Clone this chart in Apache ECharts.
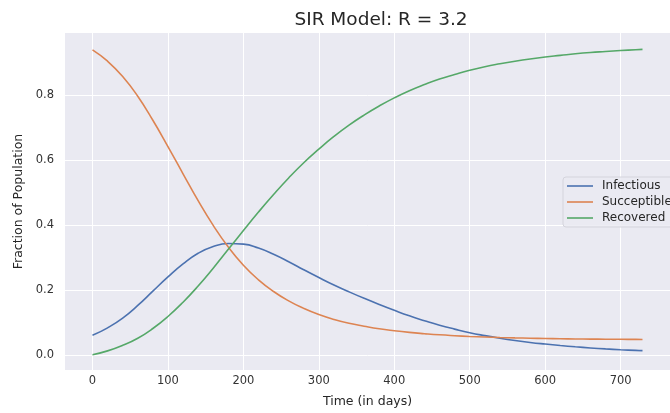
<!DOCTYPE html>
<html>
<head>
<meta charset="utf-8">
<script src="https://cdn.jsdelivr.net/npm/echarts@6/dist/echarts.min.js"></script>
<style>
  html, body { margin: 0; padding: 0; background: #ffffff; }
  #main { width: 670px; height: 413px; }
</style>
</head>
<body>
<div id="main"></div>
<script>
var days = [0, 20, 40, 60, 80, 100, 120, 140, 160, 180, 200, 220, 240, 260, 280, 300, 320, 340, 360,
  380, 400, 420, 440, 460, 480, 500, 520, 540, 560, 580, 600, 620, 640, 660, 680, 700, 720, 729];

var infectious = [0.060, 0.083, 0.113, 0.152, 0.196, 0.240, 0.280, 0.313, 0.334, 0.343, 0.341, 0.329,
  0.310, 0.287, 0.262, 0.238, 0.215, 0.194, 0.174, 0.155, 0.137, 0.120, 0.105, 0.091, 0.079, 0.068,
  0.059, 0.051, 0.044, 0.038, 0.033, 0.0285, 0.0245, 0.021, 0.018, 0.0155, 0.0135, 0.0128];

var susceptible = [0.940, 0.905, 0.858, 0.797, 0.723, 0.642, 0.558, 0.475, 0.399, 0.332, 0.276, 0.231,
  0.195, 0.166, 0.143, 0.124, 0.109, 0.097, 0.088, 0.080, 0.074, 0.069, 0.065, 0.0615, 0.0588, 0.0565,
  0.0547, 0.0532, 0.0520, 0.0510, 0.0501, 0.0494, 0.0488, 0.0483, 0.0479, 0.0476, 0.0473, 0.0472];

var recovered = [0.000, 0.012, 0.029, 0.051, 0.081, 0.118, 0.162, 0.212, 0.267, 0.325, 0.383, 0.440,
  0.494, 0.545, 0.592, 0.634, 0.673, 0.708, 0.739, 0.767, 0.792, 0.814, 0.833, 0.850, 0.864, 0.877,
  0.888, 0.897, 0.905, 0.912, 0.918, 0.923, 0.928, 0.932, 0.935, 0.938, 0.9405, 0.9415];

var names = ['Infectious', 'Succeptible', 'Recovered'];
var colors = ['#4c72b0', '#dd8452', '#55a868'];

function pairs(vals) {
  return days.map(function (d, i) { return [d, vals[i]]; });
}

var font = 'DejaVu Sans';
var chart = echarts.init(document.getElementById('main'), null, { renderer: 'canvas' });

var option = {
  backgroundColor: '#ffffff',
  animation: false,
  color: colors,
  textStyle: { fontFamily: font },
  title: {
    text: 'SIR Model: R = 3.2',
    left: 376,
    top: 6,
    textAlign: 'center',
    textStyle: { fontFamily: font, fontSize: 18.5, fontWeight: 'normal', color: '#262626' }
  },
  grid: {
    left: 65,
    top: 33,
    bottom: 41,
    right: -18,
    show: true,
    backgroundColor: '#eaeaf2',
    borderWidth: 0
  },
  legend: {
    orient: 'vertical',
    left: 563,
    top: 177,
    icon: 'rect',
    itemWidth: 26,
    itemHeight: 1.6,
    itemGap: 4,
    padding: [3, 8, 3, 4],
    backgroundColor: 'rgba(234,234,242,0.85)',
    borderColor: '#d4d4dc',
    borderWidth: 1,
    borderRadius: 3,
    data: names,
    textStyle: { fontFamily: font, fontSize: 12, color: '#262626', padding: [0, 0, 0, 4] }
  },
  xAxis: {
    type: 'value',
    min: -36.45,
    max: 765.45,
    splitNumber: 8,
    minInterval: 100,
    maxInterval: 100,
    name: 'Time (in days)',
    nameLocation: 'middle',
    nameGap: 25,
    nameTextStyle: { fontFamily: font, fontSize: 12.5, color: '#262626' },
    axisLine: { show: false },
    axisTick: { show: false },
    axisLabel: {
      showMinLabel: false, showMaxLabel: false,
      margin: 5, fontFamily: font, fontSize: 11.5, color: '#333'
    },
    splitLine: { show: true, showMinLine: false, showMaxLine: false, lineStyle: { color: '#ffffff', width: 1 } }
  },
  yAxis: {
    type: 'value',
    min: -0.047,
    max: 0.992,
    splitNumber: 5,
    minInterval: 0.2,
    maxInterval: 0.2,
    name: 'Fraction of Population',
    nameLocation: 'middle',
    nameGap: 34,
    nameTextStyle: { fontFamily: font, fontSize: 12.5, color: '#262626' },
    axisLine: { show: false },
    axisTick: { show: false },
    axisLabel: {
      showMinLabel: false, showMaxLabel: false,
      margin: 11, fontFamily: font, fontSize: 11.5, color: '#333',
      formatter: function (v) { return v.toFixed(1); }
    },
    splitLine: { show: true, showMinLine: false, showMaxLine: false, lineStyle: { color: '#ffffff', width: 1 } }
  },
  series: [
    { name: names[0], type: 'line', data: pairs(infectious), smooth: 0.5, symbol: 'none', lineStyle: { width: 1.6 } },
    { name: names[1], type: 'line', data: pairs(susceptible), smooth: 0.5, symbol: 'none', lineStyle: { width: 1.6 } },
    { name: names[2], type: 'line', data: pairs(recovered), smooth: 0.5, symbol: 'none', lineStyle: { width: 1.6 } }
  ]
};

chart.setOption(option);
</script>
</body>
</html>
